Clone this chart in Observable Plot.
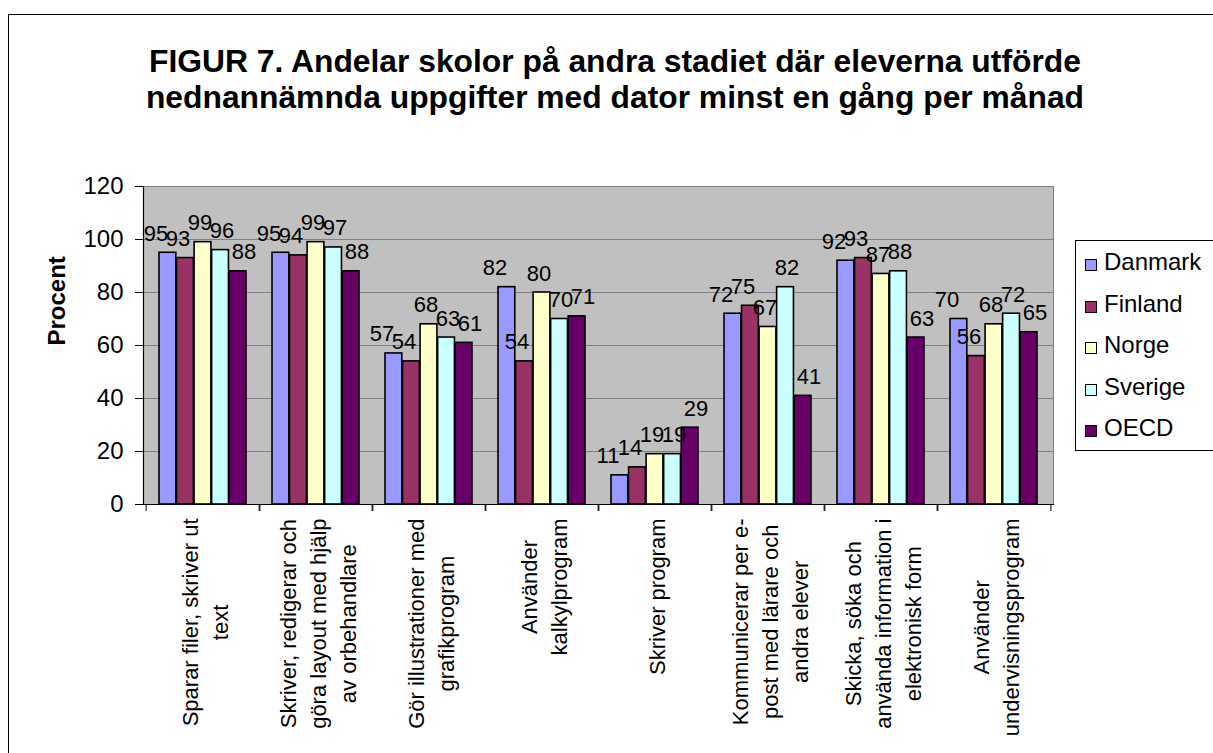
<!DOCTYPE html>
<html>
<head>
<meta charset="utf-8">
<script src="https://cdn.jsdelivr.net/npm/d3@7"></script>
<script src="https://cdn.jsdelivr.net/npm/@observablehq/plot@0.6"></script>
<style>
  html, body { margin: 0; padding: 0; overflow: hidden; background: #fff; }
  body { width: 1213px; height: 753px; position: relative; font-family: "Liberation Sans", Arial, sans-serif; }
  #border { position: absolute; left: 8px; top: 14px; width: 1300px; height: 900px; border: 1px solid #000; box-sizing: border-box; }
  #chart { position: absolute; left: 0; top: 0; }
  #title { position: absolute; left: 8px; width: 1214px; top: 43px; text-align: center; font-weight: bold; font-size: 31.8px; line-height: 36px; color: #000; }
  #legend { position: absolute; left: 1075px; top: 240px; width: 200px; height: 211px; border: 1px solid #000; box-sizing: border-box; background: #fff; }
  .item { position: absolute; left: 9px; height: 30px; font-size: 24px; line-height: 30px; white-space: nowrap; }
  .sw { display: inline-block; width: 12px; height: 12px; border: 1px solid #000; box-sizing: border-box; margin-right: 7px; vertical-align: -1px; }
</style>
</head>
<body>
<div id="border"></div>
<div id="chart"></div>
<div id="title">FIGUR 7. Andelar skolor på andra stadiet där eleverna utförde<br>nednannämnda uppgifter med dator minst en gång per månad</div>
<div id="legend"></div>
<script>
// ---- data ----
const categories = [
  "Sparar filer, skriver ut text",
  "Skriver, redigerar och göra layout med hjälp av orbehandlare",
  "Gör illustrationer med grafikprogram",
  "Använder kalkylprogram",
  "Skriver program",
  "Kommunicerar per e-post med lärare och andra elever",
  "Skicka, söka och använda information i elektronisk form",
  "Använder undervisningsprogram"
];
const categoryLabels = [
  "Sparar filer, skriver ut\ntext",
  "Skriver, redigerar och\ngöra layout med hjälp\nav orbehandlare",
  "Gör illustrationer med\ngrafikprogram",
  "Använder\nkalkylprogram",
  "Skriver program",
  "Kommunicerar per e-\npost med lärare och\nandra elever",
  "Skicka, söka och\nanvända information i\nelektronisk form",
  "Använder\nundervisningsprogram"
];
const countries = ["Danmark", "Finland", "Norge", "Sverige", "OECD"];
const colors = ["#9999FF", "#993366", "#FFFFCC", "#CCFFFF", "#660066"];
const danmark = [95, 95, 57, 82, 11, 72, 92, 70];
const finland = [93, 94, 54, 54, 14, 75, 93, 56];
const norge   = [99, 99, 68, 80, 19, 67, 87, 68];
const sverige = [96, 97, 63, 70, 19, 82, 88, 72];
const oecd    = [88, 88, 61, 71, 29, 41, 63, 65];
const yTicks = [0, 20, 40, 60, 80, 100, 120];
const yLabel = "Procent";

const series = [danmark, finland, norge, sverige, oecd];
const rows = categories.flatMap((c, i) => countries.map((k, j) => ({task: c, country: k, value: series[j][i]})));

// ---- layout constants ----
const W = 1213, H = 753;
const mL = 143, mR = 160, mT = 186, mB = 249;
const bw = (W - mL - mR) / categories.length;   // category band width
const barW = 17.55, groupPad = (bw - barW * countries.length) / 2;
const labelSpread = 22;
const catFont = 22;

// measure label lengths for top-aligned centered rotated labels
const ctx = document.createElement("canvas").getContext("2d");
ctx.font = `${catFont}px "Liberation Sans"`;
const maxLen = categoryLabels.map(s => d3.max(s.split("\n"), l => ctx.measureText(l).width));

const marks = [
  Plot.frame({fill: "#C0C0C0"}),
  Plot.gridY(yTicks.filter(v => v > 0), {stroke: "#808080", strokeOpacity: 1}),
  Plot.frame({stroke: "#808080"}),
  ...countries.map((k, j) => Plot.barY(rows.filter(r => r.country === k), {
    x: "task", y: "value", fill: colors[j], stroke: "#000", strokeWidth: 1.6,
    insetLeft: groupPad + j * barW, insetRight: bw - groupPad - (j + 1) * barW
  })),
  ...countries.map((k, j) => Plot.text(rows.filter(r => r.country === k), {
    x: "task", y: "value", text: d => String(d.value),
    dx: (j - 2) * labelSpread - 3, dy: -19, fontSize: 22, fill: "#000"
  })),
  Plot.frame({anchor: "left", stroke: "#000", strokeWidth: 1.2}),
  Plot.frame({anchor: "bottom", stroke: "#000", strokeWidth: 1.2}),
  Plot.axisY({ticks: yTicks, tickSize: 8, tickPadding: 12, fontSize: 24, label: null, stroke: "#000"}),
  Plot.axisX({tickSize: 7, tickFormat: () => "", dx: -bw / 2, label: null}),
  Plot.axisX({tickSize: 7, tickFormat: () => "", dx: bw / 2, label: null}),
  ...categories.map((c, i) => Plot.text([c], {
    x: d => d, frameAnchor: "bottom", text: () => categoryLabels[i],
    rotate: -90, textAnchor: "middle", lineAnchor: "middle", lineHeight: 30 / catFont,
    dy: 14 + maxLen[i] / 2, fontSize: catFont, fill: "#000"
  })),
  Plot.text([yLabel], {frameAnchor: "left", text: d => d, dx: -86, rotate: -90, fontWeight: "bold", fontSize: 24, fill: "#000"})
];

const chart = Plot.plot({
  width: W, height: H,
  marginLeft: mL, marginRight: mR, marginTop: mT, marginBottom: mB,
  style: {background: "transparent", fontFamily: "Liberation Sans, Arial, sans-serif", color: "#000", overflow: "visible"},
  x: {domain: categories, padding: 0, axis: null},
  y: {domain: [0, 120], axis: null},
  marks
});
document.getElementById("chart").appendChild(chart);

// legend
const legend = document.getElementById("legend");
countries.forEach((k, j) => {
  const it = document.createElement("div");
  it.className = "item";
  it.style.top = (6 + j * 41.5) + "px";
  it.innerHTML = `<span class="sw" style="background:${colors[j]}"></span>${k}`;
  legend.appendChild(it);
});
</script>
</body>
</html>
